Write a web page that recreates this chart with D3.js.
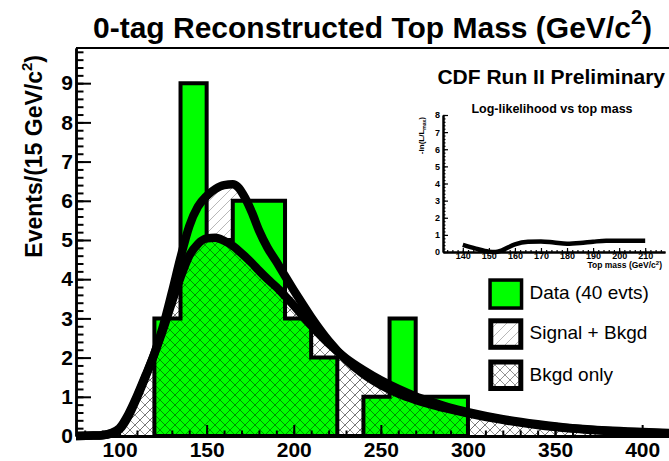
<!DOCTYPE html>
<html><head><meta charset="utf-8">
<script src="https://cdn.jsdelivr.net/npm/d3@7"></script>
<style>
html,body{margin:0;padding:0;background:#fff;}
svg{display:block;font-family:"Liberation Sans",Arial,Helvetica,sans-serif;}
</style></head><body>
<svg id="c" width="669" height="461"></svg>
<script>
// Reconstructed top mass, 0-tag sample: 15 GeV/c^2 bins
const binLowEdges = [120,135,150,165,180,195,210,225,240,255,270,285];
const binWidth = 15;
const dataCounts = [3,9,5,6,6,3,2,0,1,3,1,1];

// Fitted template shapes (events per bin) versus mass
const curveMass  = [75,85,90,95,100,105,110,115,120,125,130,135,140,145,150,155,160,165,168,172,176,180,185,190,195,200,205,210,220,230,240,250,260,270,280,290,300,320,340,360,380,400,425];
const sigPlusBkgd = [0,0.01,0.02,0.06,0.17,0.5,0.98,1.52,2.1,2.8,3.65,4.55,5.35,5.85,6.12,6.3,6.4,6.42,6.35,6.08,5.7,5.25,4.8,4.45,4.08,3.72,3.37,3.03,2.43,1.95,1.58,1.3,1.08,0.92,0.79,0.68,0.58,0.41,0.28,0.19,0.13,0.09,0.05];
const bkgdOnly    = [0,0.01,0.02,0.07,0.2,0.55,1.02,1.55,2.1,2.72,3.4,4.05,4.6,4.9,5.04,5.06,4.98,4.85,4.74,4.58,4.41,4.22,4.0,3.8,3.57,3.33,3.07,2.82,2.36,1.98,1.68,1.42,1.2,1.01,0.86,0.72,0.61,0.43,0.3,0.2,0.14,0.1,0.06];

// Log-likelihood scan
const llMass  = [140,145,150,152.5,155,160,165,170,175,180,185,190,195,200,205,210];
const llValue = [0.42,0.2,0.02,0,0.1,0.45,0.6,0.62,0.55,0.48,0.52,0.6,0.66,0.66,0.66,0.66];

// Axis ticks
const xMajorTicks = [100,150,200,250,300,350,400];
const xMinorTicks = d3.range(80, 421, 10);
const yMajorTicks = [0,1,2,3,4,5,6,7,8,9];
const yMinorTicks = d3.range(0, 9.81, 0.2);
const llXTicks = [140,150,160,170,180,190,200,210];
const llXMinor = d3.range(134, 217, 2);
const llYTicks = [0,1,2,3,4,5,6,7,8];
const llYMinor = d3.range(0, 8.01, 0.2);

const legendItems = [
  {label: "Data (40 evts)", kind: "data"},
  {label: "Signal + Bkgd", kind: "sig"},
  {label: "Bkgd only", kind: "bkg"}
];

const svg = d3.select("#c");
const x = d3.scaleLinear().domain([75, 425]).range([76, 685.7]);
const y = d3.scaleLinear().domain([0, 9.9]).range([436, 47.9]);

const defs = svg.append("defs");
function hatch(id, dirs, alpha) {
  const p = defs.append("pattern").attr("id", id)
    .attr("patternUnits", "userSpaceOnUse").attr("width", 10).attr("height", 10);
  let d = "";
  if (dirs.includes("/")) d += "M-1,1 L1,-1 M0,10 L10,0 M9,11 L11,9 ";
  if (dirs.includes("\\")) d += "M-1,9 L1,11 M0,0 L10,10 M9,-1 L11,1 ";
  p.append("path").attr("d", d).attr("stroke", "#000").attr("stroke-opacity", alpha)
    .attr("stroke-width", 1).attr("fill", "none");
}
hatch("hatchSig", "/", 0.28);
hatch("hatchBkg", "/\\", 0.42);
defs.append("clipPath").attr("id", "frameClip").append("rect")
  .attr("x", x(75)).attr("y", y(9.9)).attr("width", 700).attr("height", y(0) - y(9.9) + 6);

const plot = svg.append("g").attr("clip-path", "url(#frameClip)");

const sigPts = curveMass.map((m, i) => ({m, v: sigPlusBkgd[i]}));
const bkgPts = curveMass.map((m, i) => ({m, v: bkgdOnly[i]}));
const area = d3.area().x(d => x(d.m)).y0(y(0)).y1(d => y(d.v)).curve(d3.curveMonotoneX);
const line = d3.line().x(d => x(d.m)).y(d => y(d.v)).curve(d3.curveMonotoneX);

// signal + background hatched area
plot.append("path").attr("d", area(sigPts)).attr("fill", "url(#hatchSig)");

// data histogram as a step outline
const steps = [[binLowEdges[0], 0]];
binLowEdges.forEach((lo, i) => { steps.push([lo, dataCounts[i]]); steps.push([lo + binWidth, dataCounts[i]]); });
steps.push([binLowEdges[binLowEdges.length - 1] + binWidth, 0]);
const stepLine = d3.line().x(d => x(d[0])).y(d => y(d[1]));
plot.append("path").attr("d", stepLine(steps) + "Z")
  .attr("fill", "#00ff00").attr("stroke", "#000").attr("stroke-width", 4)
  .attr("stroke-linejoin", "miter");

// background-only hatched area
plot.append("path").attr("d", area(bkgPts)).attr("fill", "url(#hatchBkg)");

// fitted curves
plot.append("path").attr("d", line(bkgPts)).attr("fill", "none").attr("stroke", "#000").attr("stroke-width", 8.5);
plot.append("path").attr("d", line(sigPts)).attr("fill", "none").attr("stroke", "#000").attr("stroke-width", 8.5);

// axes
function styleAxis(g, fs, sw, dw) {
  g.selectAll(".tick line").attr("stroke", "#000").attr("stroke-width", sw);
  g.select(".domain").attr("stroke", "#000").attr("stroke-width", dw);
  g.selectAll("text").attr("font-size", fs).attr("font-weight", "bold").attr("fill", "#000")
    .attr("font-family", '"Liberation Sans",Arial,sans-serif');
}
const gyMinor = svg.append("g").attr("transform", `translate(${x(75)},0)`)
  .call(d3.axisLeft(y).tickValues(yMinorTicks).tickSize(-7.5).tickSizeOuter(0).tickFormat(""));
styleAxis(gyMinor, 21, 2, 2.5);
const gy = svg.append("g").attr("transform", `translate(${x(75)},0)`)
  .call(d3.axisLeft(y).tickValues(yMajorTicks).tickSize(-15).tickSizeOuter(0).tickPadding(3).tickFormat(d3.format("d")));
styleAxis(gy, 21, 2, 2.5);

const gxMinor = svg.append("g").attr("transform", `translate(0,${y(0)})`)
  .call(d3.axisBottom(x).tickValues(xMinorTicks).tickSize(-5.5).tickSizeOuter(0).tickFormat(""));
styleAxis(gxMinor, 21, 2, 3);
const gx = svg.append("g").attr("transform", `translate(0,${y(0)})`)
  .call(d3.axisBottom(x).tickValues(xMajorTicks).tickSize(-11).tickSizeOuter(0).tickPadding(6).tickFormat(d3.format("d")));
styleAxis(gx, 21, 2, 3);

svg.append("line").attr("x1", x(75)).attr("x2", x(425)).attr("y1", y(9.9)).attr("y2", y(9.9))
  .attr("stroke", "#000").attr("stroke-width", 2);

// titles
const title = svg.append("text").attr("x", 93).attr("y", 38)
  .attr("font-size", 30).attr("font-weight", "bold");
title.append("tspan").text("0-tag Reconstructed Top Mass (GeV/c");
title.append("tspan").attr("font-size", 20).attr("dy", -14).text("2");
title.append("tspan").attr("font-size", 30).attr("dy", 14).text(")");

const yTitle = svg.append("text").attr("transform", "translate(42,55) rotate(-90)")
  .attr("text-anchor", "end").attr("font-size", 23).attr("font-weight", "bold");
yTitle.append("tspan").text("Events/(15 GeV/c");
yTitle.append("tspan").attr("font-size", 15).attr("dy", -10).text("2");
yTitle.append("tspan").attr("font-size", 23).attr("dy", 10).text(")");

svg.append("text").attr("x", 665).attr("y", 84).attr("text-anchor", "end")
  .attr("font-size", 21).attr("font-weight", "bold").text("CDF Run II Preliminary");

// inset: log-likelihood scan
const xi = d3.scaleLinear().domain([132.4, 217.6]).range([443, 665]);
const yi = d3.scaleLinear().domain([0, 8]).range([252, 115]);
const inset = svg.append("g");
const llPts = llMass.map((m, i) => ({m, v: llValue[i]}));
inset.append("path")
  .attr("d", d3.line().x(d => xi(d.m)).y(d => yi(d.v)).curve(d3.curveMonotoneX)(llPts))
  .attr("fill", "none").attr("stroke", "#000").attr("stroke-width", 4.5);

const giyMinor = inset.append("g").attr("transform", `translate(${xi.range()[0]},0)`)
  .call(d3.axisLeft(yi).tickValues(llYMinor).tickSize(-2.5).tickSizeOuter(0).tickFormat(""));
styleAxis(giyMinor, 9, 1.2, 2);
const giy = inset.append("g").attr("transform", `translate(${xi.range()[0]},0)`)
  .call(d3.axisLeft(yi).tickValues(llYTicks).tickSize(-5).tickSizeOuter(0).tickPadding(3).tickFormat(d3.format("d")));
styleAxis(giy, 9, 1.2, 2);
const gixMinor = inset.append("g").attr("transform", `translate(0,${yi(0)})`)
  .call(d3.axisBottom(xi).tickValues(llXMinor).tickSize(-2).tickSizeOuter(0).tickFormat(""));
styleAxis(gixMinor, 9, 1.2, 2);
const gix = inset.append("g").attr("transform", `translate(0,${yi(0)})`)
  .call(d3.axisBottom(xi).tickValues(llXTicks).tickSize(-4).tickSizeOuter(0).tickPadding(1).tickFormat(d3.format("d")));
styleAxis(gix, 9, 1.2, 2);

inset.append("text").attr("x", 552).attr("y", 113).attr("text-anchor", "middle")
  .attr("font-size", 12.5).attr("font-weight", "bold").text("Log-likelihood vs top mass");
const ixt = inset.append("text").attr("x", 662).attr("y", 268).attr("text-anchor", "end")
  .attr("font-size", 8.5).attr("font-weight", "bold");
ixt.append("tspan").text("Top mass (GeV/c");
ixt.append("tspan").attr("font-size", 6).attr("dy", -3).text("2");
ixt.append("tspan").attr("font-size", 8.5).attr("dy", 3).text(")");
const iyt = inset.append("text").attr("transform", "translate(424,117) rotate(-90)")
  .attr("text-anchor", "end").attr("font-size", 8).attr("font-weight", "bold");
iyt.append("tspan").text("-ln(L/L");
iyt.append("tspan").attr("font-size", 5).attr("dy", 2).text("max");
iyt.append("tspan").attr("font-size", 8).attr("dy", -2).text(")");

// legend
const legend = svg.append("g");
legendItems.forEach((it, i) => {
  const top = [278.3, 318.3, 359.5][i];
  const sw = it.kind === "data" ? 3.5 : 5;
  const r = legend.append("rect")
    .attr("x", 488.3 + sw / 2).attr("y", top + sw / 2)
    .attr("width", 35 - sw).attr("height", 31.5 - sw)
    .attr("stroke", "#000").attr("stroke-width", sw);
  if (it.kind === "data") r.attr("fill", "#00ff00");
  else if (it.kind === "sig") r.attr("fill", "url(#hatchSig)");
  else r.attr("fill", "url(#hatchBkg)");
  legend.append("text").attr("x", 529.5).attr("y", top + 21)
    .attr("font-size", 19).text(it.label);
});
</script>
</body></html>
